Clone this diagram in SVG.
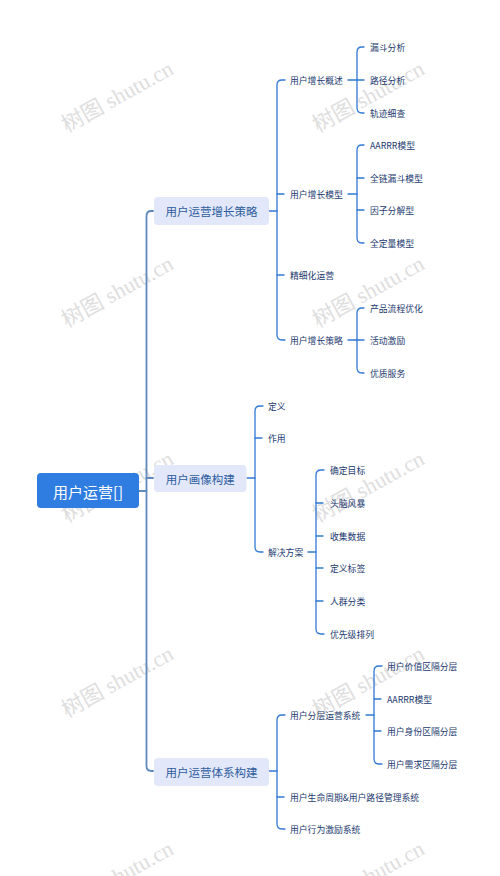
<svg xmlns="http://www.w3.org/2000/svg" width="500" height="876" viewBox="0 0 500 876">
<style>
.bg{fill:#ffffff}
.wm{font-family:"Liberation Serif","Noto Sans CJK SC",serif;font-size:22px;fill:#d4d4d4;opacity:0.75}
.t{font-family:"Noto Sans CJK SC","Liberation Sans",sans-serif;dominant-baseline:central}
.l1b{fill:#e2e8fa}
.l1{font-size:11.5px;fill:#2f5d9e}
.l2{font-size:8.8px;fill:#22386e}
.root{font-size:15px;fill:#ffffff}
.trunk{fill:none;stroke:#5f88bd;stroke-width:1.8;stroke-linecap:round}
.ln{fill:none;stroke:#3079d4;stroke-width:1.3;stroke-linecap:round}
</style>
<rect class="bg" x="0" y="0" width="500" height="876"/>

<g id="watermarks">
<text class="wm" x="67" y="133" transform="rotate(-29 67 133)">树图 shutu.cn</text>
<text class="wm" x="318" y="133" transform="rotate(-29 318 133)">树图 shutu.cn</text>
<text class="wm" x="67" y="328" transform="rotate(-29 67 328)">树图 shutu.cn</text>
<text class="wm" x="318" y="328" transform="rotate(-29 318 328)">树图 shutu.cn</text>
<text class="wm" x="67" y="523" transform="rotate(-29 67 523)">树图 shutu.cn</text>
<text class="wm" x="318" y="523" transform="rotate(-29 318 523)">树图 shutu.cn</text>
<text class="wm" x="67" y="718" transform="rotate(-29 67 718)">树图 shutu.cn</text>
<text class="wm" x="318" y="718" transform="rotate(-29 318 718)">树图 shutu.cn</text>
<text class="wm" x="67" y="913" transform="rotate(-29 67 913)">树图 shutu.cn</text>
<text class="wm" x="318" y="913" transform="rotate(-29 318 913)">树图 shutu.cn</text>
</g>

<g id="connectors">
<!-- trunk -->
<path class="trunk" d="M139 491 H146.5"/>
<path class="trunk" d="M153 211 H151.5 Q146.5 211 146.5 216 V766 Q146.5 771 151.5 771 H153"/>
<path class="trunk" d="M146.5 478 H153"/>
<!-- node1 -> level2 -->
<path class="ln" d="M269 211 H277"/>
<path class="ln" d="M285 80 H282 Q277 80 277 85 V335 Q277 340 282 340 H285"/>
<path class="ln" d="M277 194 H284"/>
<path class="ln" d="M277 275 H284"/>
<!-- 用户增长概述 -->
<path class="ln" d="M348 80 H357"/>
<path class="ln" d="M364 47 H362 Q357 47 357 52 V108 Q357 113 362 113 H364"/>
<path class="ln" d="M357 80 H364"/>
<!-- 用户增长模型 -->
<path class="ln" d="M348 194 H357"/>
<path class="ln" d="M364 145 H362 Q357 145 357 150 V238 Q357 243 362 243 H364"/>
<path class="ln" d="M357 178 H364"/>
<path class="ln" d="M357 210 H364"/>
<!-- 用户增长策略 -->
<path class="ln" d="M348 340 H357"/>
<path class="ln" d="M364 308 H362 Q357 308 357 313 V368 Q357 373 362 373 H364"/>
<path class="ln" d="M357 340 H364"/>
<!-- node2 -> level2 -->
<path class="ln" d="M247 478 H255"/>
<path class="ln" d="M263 406 H260 Q255 406 255 411 V547 Q255 552 260 552 H263"/>
<path class="ln" d="M255 438 H262"/>
<!-- 解决方案 -->
<path class="ln" d="M308 552 H316"/>
<path class="ln" d="M324 470 H321 Q316 470 316 475 V629 Q316 634 321 634 H324"/>
<path class="ln" d="M316 503 H323"/>
<path class="ln" d="M316 536 H323"/>
<path class="ln" d="M316 568 H323"/>
<path class="ln" d="M316 601 H323"/>
<!-- node3 -> level2 -->
<path class="ln" d="M269 771 H277"/>
<path class="ln" d="M285 715 H282 Q277 715 277 720 V824 Q277 829 282 829 H285"/>
<path class="ln" d="M277 797 H284"/>
<!-- 用户分层运营系统 -->
<path class="ln" d="M366 715 H374"/>
<path class="ln" d="M382 666 H379 Q374 666 374 671 V759 Q374 764 379 764 H382"/>
<path class="ln" d="M374 699 H381"/>
<path class="ln" d="M374 731 H381"/>
</g>

<g id="root">
<rect x="37" y="473" width="102" height="35" rx="4" fill="#2f7de1"/>
<text class="t root" x="88" y="491" text-anchor="middle">用户运营[]</text>
</g>

<g id="n1">
<rect class="l1b" x="154" y="197" width="115" height="28" rx="4"/>
<text class="t l1" x="211.5" y="211" text-anchor="middle">用户运营增长策略</text>
</g>
<g id="n2">
<rect class="l1b" x="154" y="465" width="92.5" height="27" rx="4"/>
<text class="t l1" x="200.3" y="478.5" text-anchor="middle">用户画像构建</text>
</g>
<g id="n3">
<rect class="l1b" x="154" y="758" width="115" height="28" rx="4"/>
<text class="t l1" x="211.5" y="772" text-anchor="middle">用户运营体系构建</text>
</g>

<g id="n1-children">
<text class="t l2" x="290" y="80">用户增长概述</text>
<text class="t l2" x="370" y="47">漏斗分析</text>
<text class="t l2" x="370" y="80">路径分析</text>
<text class="t l2" x="370" y="113">轨迹细查</text>
<text class="t l2" x="290" y="194">用户增长模型</text>
<text class="t l2" x="370" y="145">AARRR模型</text>
<text class="t l2" x="370" y="178">全链漏斗模型</text>
<text class="t l2" x="370" y="210">因子分解型</text>
<text class="t l2" x="370" y="243">全定量模型</text>
<text class="t l2" x="290" y="275">精细化运营</text>
<text class="t l2" x="290" y="340">用户增长策略</text>
<text class="t l2" x="370" y="308">产品流程优化</text>
<text class="t l2" x="370" y="340">活动激励</text>
<text class="t l2" x="370" y="373">优质服务</text>
</g>

<g id="n2-children">
<text class="t l2" x="268" y="406">定义</text>
<text class="t l2" x="268" y="438">作用</text>
<text class="t l2" x="268" y="552">解决方案</text>
<text class="t l2" x="330" y="470">确定目标</text>
<text class="t l2" x="330" y="503">头脑风暴</text>
<text class="t l2" x="330" y="536">收集数据</text>
<text class="t l2" x="330" y="568">定义标签</text>
<text class="t l2" x="330" y="601">人群分类</text>
<text class="t l2" x="330" y="634">优先级排列</text>
</g>

<g id="n3-children">
<text class="t l2" x="290" y="715">用户分层运营系统</text>
<text class="t l2" x="387" y="666">用户价值区隔分层</text>
<text class="t l2" x="387" y="699">AARRR模型</text>
<text class="t l2" x="387" y="731">用户身份区隔分层</text>
<text class="t l2" x="387" y="764">用户需求区隔分层</text>
<text class="t l2" x="290" y="797">用户生命周期&amp;用户路径管理系统</text>
<text class="t l2" x="290" y="829">用户行为激励系统</text>
</g>
</svg>
